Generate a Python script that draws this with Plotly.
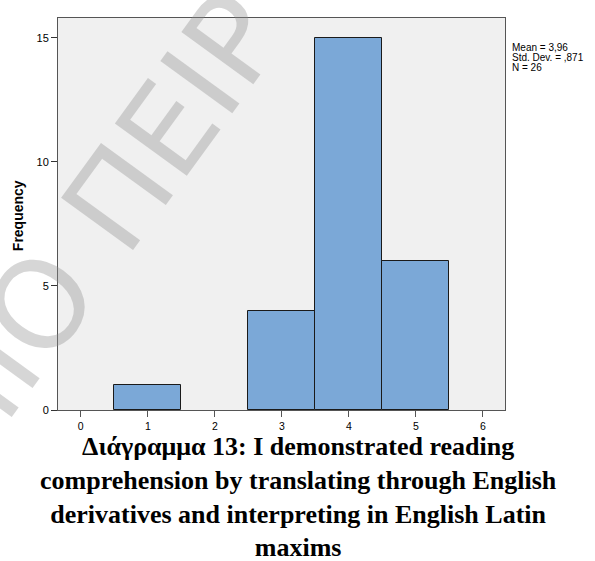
import plotly.graph_objects as go

categories = [1, 2, 3, 4, 5]
frequencies = [1, 0, 4, 15, 6]
x_ticks = [0, 1, 2, 3, 4, 5, 6]
y_ticks = [0, 5, 10, 15]
y_title = "Frequency"
stats_lines = ["Mean = 3,96", "Std. Dev. = ,871", "N = 26"]
caption = ("Διάγραμμα 13: I demonstrated reading<br>comprehension by translating through English"
           "<br>derivatives and interpreting in English Latin<br>maxims")
watermark = "ΜΙΟ ΠΕΙΡ"

# only draw non-empty bins (an empty bin has no bar outline in the reference)
bx = [c for c, f in zip(categories, frequencies) if f > 0]
by = [f for f in frequencies if f > 0]

fig = go.Figure()
fig.add_trace(go.Bar(
    x=bx, y=by, width=1,
    marker=dict(color="#7ba8d7", line=dict(color="#1a1a1a", width=1)),
    showlegend=False, hoverinfo="skip",
))

fig.update_layout(
    width=595, height=561,
    margin=dict(l=58, r=90, t=18, b=151),
    paper_bgcolor="white", plot_bgcolor="#f0f0f0",
    font=dict(family="Arial, Liberation Sans, sans-serif", size=10, color="black"),
    bargap=0,
    xaxis=dict(range=[-0.34, 6.33], tickvals=x_ticks, ticks="outside", ticklen=6,
               tickcolor="#555", showgrid=False, zeroline=False,
               showline=True, linecolor="#555", linewidth=1, mirror=True,
               tickfont=dict(size=10.5)),
    yaxis=dict(range=[0, 15.8], tickvals=y_ticks, ticks="outside", ticklen=6,
               tickcolor="#333", showgrid=False, zeroline=False,
               showline=True, linecolor="#555", linewidth=1, mirror=True,
               tickfont=dict(size=11)),
)

fig.add_annotation(text=watermark, xref="paper", yref="paper", x=0.077, y=0.45,
                   xanchor="center", yanchor="middle", showarrow=False, textangle=-54,
                   font=dict(size=122, family="DejaVu Sans, sans-serif",
                             color="rgba(140,140,140,0.36)"))

fig.add_annotation(text="<b>" + y_title + "</b>", xref="paper", yref="paper",
                   x=-0.0895, y=0.497, xanchor="center", yanchor="middle",
                   showarrow=False, textangle=-90,
                   font=dict(size=14, family="Arial, Liberation Sans, sans-serif"))

for i, line in enumerate(stats_lines):
    fig.add_annotation(text=line, xref="paper", yref="paper", x=1.012, y=0.9235 - i * 0.0243,
                       xanchor="left", yanchor="middle", showarrow=False, align="left",
                       font=dict(size=10, family="Arial, Liberation Sans, sans-serif"))

fig.add_annotation(text="<b>" + caption + "</b>", xref="paper", yref="paper",
                   x=0.538, y=-0.05, xanchor="center", yanchor="top", showarrow=False,
                   align="center",
                   font=dict(size=26, family="Liberation Serif, Times New Roman, serif", color="black"))

fig.write_html("out.html")
